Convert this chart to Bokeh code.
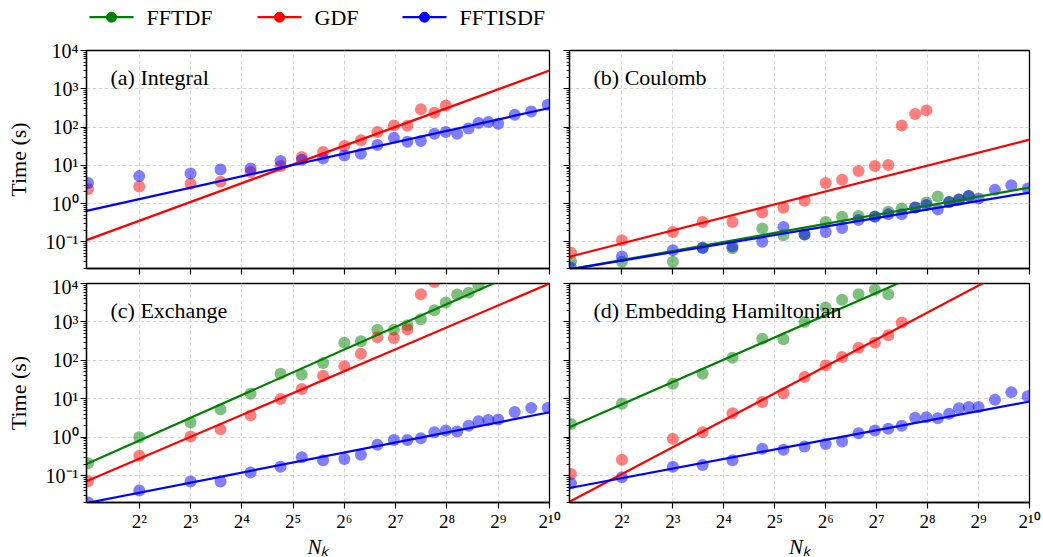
import numpy as np
from bokeh.plotting import figure
from bokeh.models import (FixedTicker, Label, Range1d, BasicTickFormatter,
                          ColumnDataSource)
from bokeh.layouts import column, row
from bokeh.embed import file_html
from bokeh.resources import INLINE
from bokeh.core.properties import value

FONT = "Liberation Serif"
GREEN, RED, BLUE = "#008000", "#ff0000", "#0000ff"

# ---------------- data ----------------
nk = [2, 4, 8, 12, 18, 27, 36, 48, 64, 80, 100, 125, 150, 180, 216, 252,
      294, 343, 392, 448, 512, 640, 800, 1000]

# (a) Integral
gdf_a = [2.4, 2.8, 3.3, 3.7, 6.7, 9.6, 16.5, 22.3, 32, 45, 74, 110, 108, 289, 237, 367]
isdf_a = [3.46, 5.2, 6.1, 7.7, 8.2, 13, 14, 15, 17.9, 20, 34, 52, 41, 43, 67, 74,
          67, 91, 127, 135, 122, 210, 256, 383]

# (b) Coulomb
fftdf_b = [0.031, 0.030, 0.030, 0.069, 0.068, 0.223, 0.149, 0.155, 0.33, 0.45,
           0.47, 0.46, 0.61, 0.74, 0.79, 1.06, 1.52, 1.1, 1.27, 1.58]
gdf_b = [0.052, 0.11, 0.18, 0.33, 0.33, 0.58, 0.77, 1.18, 3.45, 4.2, 7.1, 9.5,
         10.2, 110, 218, 272]
isdf_b = [0.021, 0.041, 0.06, 0.0695, 0.075, 0.10, 0.245, 0.155, 0.18, 0.23, 0.37,
          0.45, 0.52, 0.52, 0.79, 0.91, 0.70, 1.1, 1.27, 1.58, 1.35, 2.3, 3.0, 2.47]

# (c) Exchange
fftdf_c = [0.21, 1.0, 2.4, 5.3, 13.5, 45, 43, 85, 289, 313, 630, 630, 818, 1170,
           2010, 3190, 5160, 5710, 9060]
gdf_c = [0.071, 0.33, 1.04, 1.6, 3.7, 9.8, 18, 40, 70, 149, 400, 383, 631, 5270, 11000]
isdf_c = [0.020, 0.041, 0.070, 0.070, 0.12, 0.17, 0.30, 0.25, 0.27, 0.35, 0.64,
          0.85, 0.85, 0.94, 1.35, 1.49, 1.41, 2.0, 2.6, 2.8, 2.9, 4.5, 5.8, 5.8]

# (d) Embedding Hamiltonian
fftdf_d = [2.2, 7.4, 24.6, 45, 117, 367, 353, 1000, 2370, 3760, 5280, 6850, 5280]
gdf_d = [0.11, 0.26, 0.91, 1.35, 4.2, 8.2, 14, 37, 74, 122, 214, 289, 449, 962]
isdf_d = [0.063, 0.091, 0.17, 0.19, 0.25, 0.50, 0.47, 0.57, 0.67, 0.77, 1.27, 1.49,
          1.65, 2.0, 3.2, 3.3, 3.1, 4.1, 5.7, 6.1, 6.1, 9.4, 14.9, 11.7]

# power-law fit lines  t = 10**log10_prefactor * Nk**exponent
fit_a_gdf = (1.631, -1.433)
fit_a_isdf = (0.989, -0.480)
fit_b_fftdf = (0.787, -1.952)
fit_b_gdf = (1.126, -1.720)
fit_b_isdf = (0.739, -1.938)
fit_c_fftdf = (1.966, -1.270)
fit_c_gdf = (1.894, -1.701)
fit_c_isdf = (0.869, -1.967)
fit_d_fftdf = (1.927, -0.302)
fit_d_gdf = (2.327, -2.357)
fit_d_isdf = (0.828, -1.564)

series_names = ["FFTDF", "GDF", "FFTISDF"]
series_colors = [GREEN, RED, BLUE]
x_ticks = [4.0, 8.0, 16.0, 32.0, 64.0, 128.0, 256.0, 512.0, 1024.0]
x_tick_labels = ["2²", "2³", "2⁴", "2⁵", "2⁶", "2⁷", "2⁸", "2⁹", "2¹⁰"]
y_ticks = [0.1, 1.0, 10.0, 100.0, 1000.0, 10000.0]
y_tick_labels = ["10⁻¹", "10⁰", "10¹", "10²", "10³", "10⁴"]
y_minor = [m * 10.0 ** e for e in range(-2, 4) for m in range(2, 10)]
x_title = "Nₖ"
y_title = "Time (s)"

X_LO, X_HI = 1.96, 1024.0
Y_LO, Y_HI = 0.02, 1.0e4


def make_panel(tag, pts, fits, fw, fh, bl, br, bt, bb, show_x, show_y):
    p = figure(x_axis_type="log", y_axis_type="log",
               x_range=Range1d(X_LO, X_HI), y_range=Range1d(Y_LO, Y_HI),
               frame_width=fw, frame_height=fh,
               min_border_left=bl, min_border_right=br,
               min_border_top=bt, min_border_bottom=bb,
               toolbar_location=None, output_backend="svg")
    p.background_fill_color = "white"
    p.border_fill_color = "white"
    p.outline_line_color = "black"
    p.outline_line_width = 1.3
    p.outline_line_alpha = 1.0

    xa = p.xaxis[0]
    ya = p.yaxis[0]
    xa.ticker = FixedTicker(ticks=x_ticks, minor_ticks=[])
    ya.ticker = FixedTicker(ticks=y_ticks, minor_ticks=y_minor)
    for ax in (xa, ya):
        ax.formatter = BasicTickFormatter()
        ax.axis_line_color = "black"
        ax.axis_line_width = 1.3
        ax.major_tick_line_color = "black"
        ax.major_tick_line_width = 1.2
        ax.major_tick_in = 0
        ax.major_tick_out = 6
        ax.minor_tick_line_color = "black"
        ax.minor_tick_line_width = 0.9
        ax.minor_tick_in = 0
        ax.minor_tick_out = 3
        ax.major_label_text_font = FONT
        ax.major_label_text_color = "black"
    xa.major_label_text_font_size = "19px"
    ya.major_label_text_font_size = "20px"
    if show_x:
        xa.major_label_overrides = dict(zip(x_ticks, x_tick_labels))
        xa.major_label_standoff = 2
        xa.axis_label = x_title
        xa.axis_label_text_font = FONT
        xa.axis_label_text_font_size = "21px"
        xa.axis_label_text_font_style = "italic"
        xa.axis_label_text_color = "black"
        xa.axis_label_standoff = 0
    else:
        xa.major_label_overrides = {t: "" for t in x_ticks}
        xa.major_label_text_font_size = "0px"
        xa.major_label_standoff = 0
    if show_y:
        ya.major_label_overrides = dict(zip(y_ticks, y_tick_labels))
        ya.major_label_standoff = 2
        ya.axis_label = y_title
        ya.axis_label_text_font = FONT
        ya.axis_label_text_font_size = "22px"
        ya.axis_label_text_font_style = "normal"
        ya.axis_label_text_color = "black"
        ya.axis_label_standoff = 12
    else:
        ya.major_label_overrides = {t: "" for t in y_ticks}
        ya.major_label_text_font_size = "0px"
        ya.major_label_standoff = 0

    for g in p.grid:
        g.grid_line_color = "#cccccc"
        g.grid_line_dash = "4 2"
        g.grid_line_width = 0.8

    for xs, ys, col in pts:
        p.scatter(xs, ys, marker="circle", size=12, fill_color=col, fill_alpha=0.5,
                  line_color=None)
    xl = np.array([X_LO, X_HI])
    for (expo, logpre), col in fits:
        p.line(xl, 10.0 ** logpre * xl ** expo, line_color=col, line_width=2.2)

    p.add_layout(Label(x=24, y=fh - 27, x_units="screen", y_units="screen", text=tag,
                       text_font=FONT, text_font_size="22px", text_color="black",
                       text_baseline="alphabetic"))
    return p


pa = make_panel("(a) Integral",
                [(nk[:len(gdf_a)], gdf_a, RED), (nk, isdf_a, BLUE)],
                [(fit_a_gdf, RED), (fit_a_isdf, BLUE)],
                463, 218, 86, 12, 16, 7, False, True)
pb = make_panel("(b) Coulomb",
                [(nk[:len(fftdf_b)], fftdf_b, GREEN), (nk[:len(gdf_b)], gdf_b, RED),
                 (nk, isdf_b, BLUE)],
                [(fit_b_gdf, RED), (fit_b_fftdf, GREEN), (fit_b_isdf, BLUE)],
                460, 218, 8, 14, 16, 7, False, False)
pc = make_panel("(c) Exchange",
                [(nk[:len(fftdf_c)], fftdf_c, GREEN), (nk[:len(gdf_c)], gdf_c, RED),
                 (nk, isdf_c, BLUE)],
                [(fit_c_fftdf, GREEN), (fit_c_gdf, RED), (fit_c_isdf, BLUE)],
                463, 219, 86, 12, 8, 55, True, True)
pd = make_panel("(d) Embedding Hamiltonian",
                [(nk[:len(fftdf_d)], fftdf_d, GREEN), (nk[:len(gdf_d)], gdf_d, RED),
                 (nk, isdf_d, BLUE)],
                [(fit_d_fftdf, GREEN), (fit_d_gdf, RED), (fit_d_isdf, BLUE)],
                460, 219, 8, 14, 8, 55, True, False)

# ---------------- legend strip (drawn in its own small figure) ----------------
LEG_W, LEG_H = 1043, 34
leg_x0 = [89, 257, 402]      # left end of each legend line (px)
leg_len, leg_gap, leg_y = 44, 13, 17.3
leg = figure(width=LEG_W, height=LEG_H, x_range=Range1d(0, LEG_W), y_range=Range1d(0, LEG_H),
             min_border=0, toolbar_location=None, output_backend="svg",
             x_axis_location=None, y_axis_location=None)
leg.grid.visible = False
leg.outline_line_color = None
leg.background_fill_color = "white"
leg.border_fill_color = "white"
x0 = np.array(leg_x0, dtype=float)
src = ColumnDataSource(dict(x0=x0, x1=x0 + leg_len, xm=x0 + leg_len / 2,
                            xt=x0 + leg_len + leg_gap, y=[leg_y] * 3,
                            name=series_names, color=series_colors))
leg.segment(x0="x0", y0="y", x1="x1", y1="y", line_color="color", line_width=2.2, source=src)
leg.scatter(x="xm", y="y", marker="circle", size=10, fill_color="color", line_color="color",
            source=src)
leg.text(x="xt", y="y", text="name", text_font=value(FONT), text_font_size="22px",
         text_baseline="middle", text_align="left", text_color="black", source=src)

layout = column(leg, row(pa, pb), row(pc, pd))

with open("out.html", "w") as f:
    f.write(file_html(layout, INLINE))
